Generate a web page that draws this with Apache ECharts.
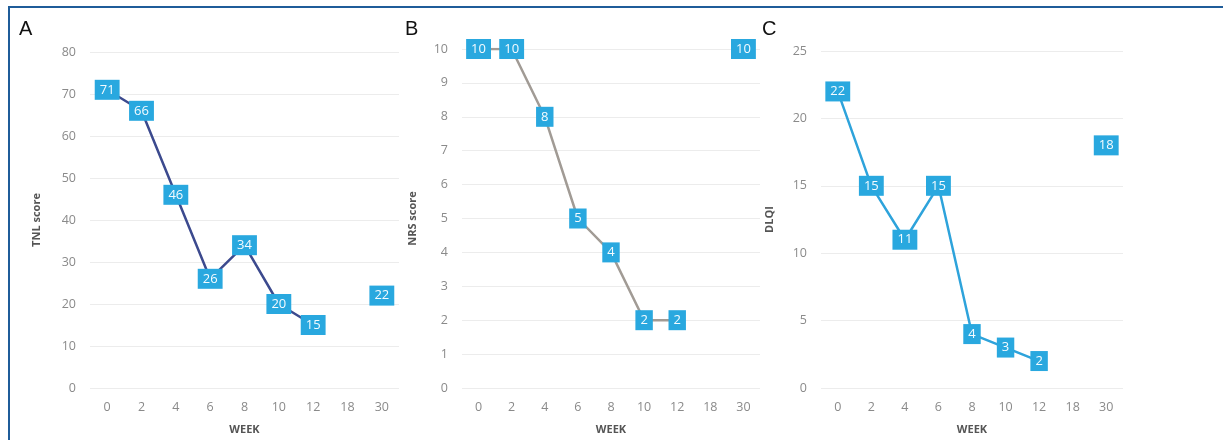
<!DOCTYPE html>
<html>
<head>
<meta charset="utf-8">
<script src="https://cdn.jsdelivr.net/npm/echarts@6/dist/echarts.min.js"></script>
<style>
  html, body { margin: 0; padding: 0; background: #fff; }
  #frame { position: absolute; left: 8px; top: 6px; width: 1240px; height: 460px;
           border-top: 2px solid #1f5c99; border-left: 2px solid #1f5c99; box-sizing: border-box; }
  #chart { position: absolute; left: 0; top: 0; width: 1223px; height: 440px; }
</style>
</head>
<body>
<div id="frame"></div>
<div id="chart"></div>
<script>
const weeks = ['0', '2', '4', '6', '8', '10', '12', '18', '30'];
const tnlScore = [71, 66, 46, 26, 34, 20, 15, null, 22];
const nrsScore = [10, 10, 8, 5, 4, 2, 2, null, 10];
const dlqiScore = [22, 15, 11, 15, 4, 3, 2, null, 18];
const panelLetters = ['A', 'B', 'C'];
const yNames = ['TNL score', 'NRS score', 'DLQI'];
const yMax = [80, 10, 25];
const yStep = [10, 1, 5];

const grids = [
  { left: 90, top: 52, width: 309, height: 338 },
  { left: 462, top: 49, width: 298, height: 343 },
  { left: 821, top: 51, width: 302, height: 340 }
];
const yNameGaps = [48, 44, 46];
const lineColors = ['#3c4a8e', '#a19b95', '#2ea3db'];
const allData = [tnlScore, nrsScore, dlqiScore];
const letterX = [27, 413, 770];

const chart = echarts.init(document.getElementById('chart'), null, { renderer: 'canvas' });
const option = {
  animation: false,
  backgroundColor: 'transparent',
  grid: grids.map(g => Object.assign({ containLabel: false }, g)),
  graphic: panelLetters.map((t, i) => ({
    type: 'text', left: letterX[i] - 8, top: 19,
    style: { text: t, fontSize: 20, fontFamily: 'Liberation Sans', fill: '#111' }
  })),
  xAxis: [0, 1, 2].map(i => ({
    type: 'category', gridIndex: i, data: weeks, boundaryGap: true,
    axisLine: { show: false }, axisTick: { show: false },
    axisLabel: { color: '#8a8a8a', fontSize: 12.5, margin: 13, fontFamily: 'Open Sans' },
    name: 'WEEK', nameLocation: 'middle', nameGap: 36,
    nameTextStyle: { color: '#555', fontSize: 11, fontWeight: 'bold', fontFamily: 'Open Sans' }
  })),
  yAxis: [0, 1, 2].map(i => ({
    type: 'value', gridIndex: i, min: 0, max: yMax[i], interval: yStep[i],
    axisLine: { show: false }, axisTick: { show: false },
    axisLabel: { color: '#8a8a8a', fontSize: 12.5, margin: 14, fontFamily: 'Open Sans' },
    splitLine: { lineStyle: { color: '#ececec', width: 1 } },
    name: yNames[i], nameLocation: 'middle', nameGap: yNameGaps[i], nameRotate: 90,
    nameTextStyle: { color: '#555', fontSize: 11, fontWeight: 'bold', fontFamily: 'Open Sans' }
  })),
  series: [0, 1, 2].map(i => ({
    type: 'line', xAxisIndex: i, yAxisIndex: i, data: allData[i],
    connectNulls: false,
    symbol: 'rect', symbolSize: 1, showSymbol: true,
    lineStyle: { color: lineColors[i], width: 2.5 },
    itemStyle: { color: lineColors[i] },
    label: {
      show: true, position: 'inside', color: '#f4fbff', fontSize: 13, fontFamily: 'Open Sans',
      backgroundColor: '#29a8df', padding: [4, 5, 3, 5]
    },
    emphasis: { disabled: true }
  }))
};
chart.setOption(option);
</script>
</body>
</html>
